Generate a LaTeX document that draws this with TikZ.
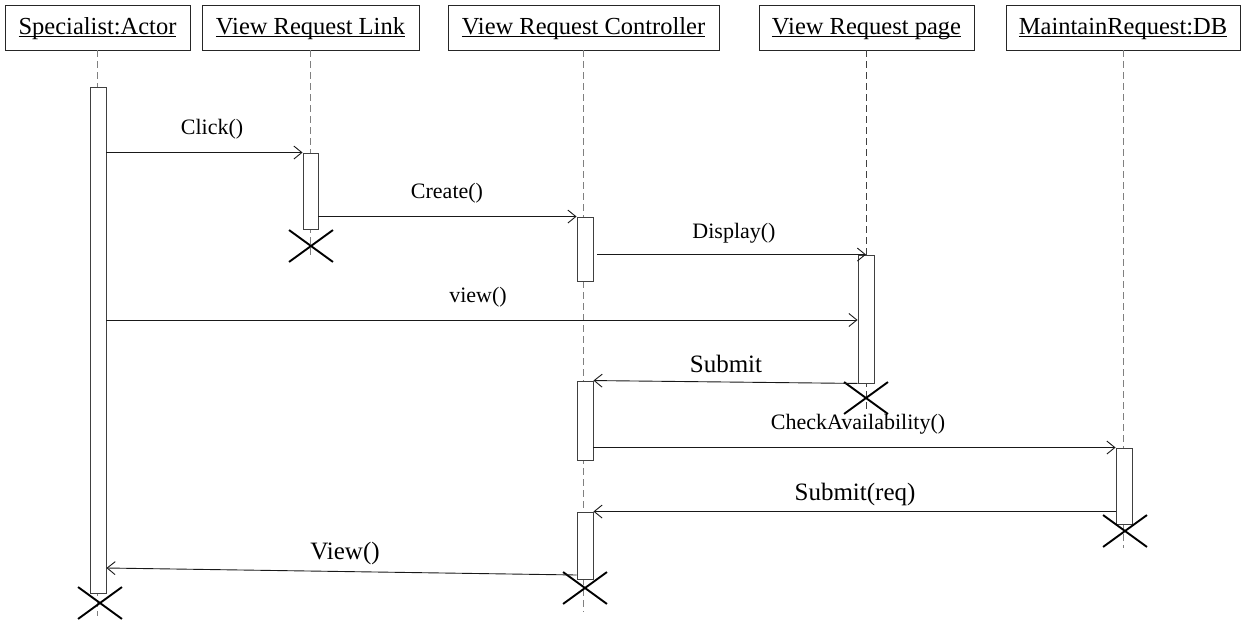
\documentclass[tikz,border=0pt]{standalone}
\usepackage{fontspec}
\setmainfont{Liberation Serif}
\usetikzlibrary{arrows.meta,shapes.misc}
\newcommand\myul[1]{\setbox0\hbox{#1}\rlap{\rule[-2.2pt]{\wd0}{0.9pt}}\box0}
\tikzset{
  head/.style={draw=black!85, line width=0.9pt, minimum height=45pt, inner sep=0pt,
    text height=19pt, text depth=4pt, font=\fontsize{24.5}{29}\selectfont},
  life/.style={draw=black!50, line width=0.8pt, dash pattern=on 7pt off 4pt},
  lifedark/.style={draw=black!75, line width=1.4pt, dash pattern=on 7pt off 4pt},
  bar/.style={draw=black!75, fill=white, line width=0.9pt, inner sep=0pt, minimum width=16pt},
  msg/.style={draw=black!90, line width=0.9pt, -{Straight Barb[length=8pt,width=13pt,line width=0.9pt]}},
  lbl/.style={inner sep=0pt, font=\fontsize{22}{26}\selectfont},
  lblbig/.style={inner sep=0pt, font=\fontsize{25}{29}\selectfont},
  destroy/.style={cross out, draw=black, line width=1.9pt, minimum width=42pt, minimum height=30pt, inner sep=0pt}
}
\begin{document}
\begin{tikzpicture}[x=1pt,y=-1pt]
\useasboundingbox (0,0) rectangle (1241,620);
% headers
\node[head, minimum width=185pt] (H1) at (97.5,27.5) {\myul{Specialist:Actor}};
\node[head, minimum width=217pt] (H2) at (310.5,27.5) {\myul{View Request Link}};
\node[head, minimum width=271pt] (H3) at (583.5,27.5) {\myul{View Request Controller}};
\node[head, minimum width=215pt] (H4) at (866.5,27.5) {\myul{View Request page}};
\node[head, minimum width=234pt] (H5) at (1123,27.5) {\myul{MaintainRequest:DB}};
% lifelines
\draw[life] (H1.south) -- (H1.south |- 0,616);
\draw[life] (H2.south) -- (H2.south |- 0,258);
\draw[life] (H3.south) -- (H3.south |- 0,612);
\draw[lifedark] (H4.south) -- (H4.south |- 0,410);
\draw[life] (H5.south) -- (H5.south |- 0,548);
% activation bars
\node[bar, minimum height=506pt] (A) at (98,340) {};
\node[bar, minimum width=15pt, minimum height=76pt] (L1) at (310.5,191) {};
\node[bar, minimum height=64pt] (C1) at (585,249) {};
\node[bar, minimum height=79pt] (C2) at (585,420.5) {};
\node[bar, minimum height=67pt] (C3) at (585,545.5) {};
\node[bar, minimum height=128pt] (P1) at (866,319) {};
\node[bar, minimum height=76pt] (D1) at (1124,486) {};
% destruction marks
\node[destroy] (XL) at (311,246) {};
\node[destroy] (XP) at (866,398) {};
\node[destroy] (XD) at (1125,531) {};
\node[destroy] (XC) at (585,588) {};
\node[destroy] (XA) at (100,603) {};
% messages
\draw[msg] (A.east |- L1.north west) -- (L1.north west);
\draw[msg] (L1.east |- C1.north west) -- (C1.north west);
\draw[msg] ([xshift=4pt]C1.east |- P1.north) -- (P1.north);
\draw[msg] (A.east |- 0,320) -- (P1.west |- 0,320);
\draw[msg] (P1.south west) -- (C2.north east);
\draw[msg] (C2.east |- D1.north west) -- (D1.north west);
\draw[msg] (D1.west |- C3.north east) -- (C3.north east);
\draw[msg] (C3.west |- 0,575) -- (A.east |- 0,568);
% labels
\node[lbl] (t1) at (212,129) {Click()};
\node[lbl] (t2) at (447,193) {Create()};
\node[lbl] (t3) at (734,233) {Display()};
\node[lbl] (t4) at (478,297) {view()};
\node[lblbig] (t5) at (726,364) {Submit};
\node[lbl] (t6) at (858,424) {CheckAvailability()};
\node[lblbig] (t7) at (855,494) {Submit(req)};
\node[lblbig] (t8) at (345,553) {View()};
\end{tikzpicture}
\end{document}
